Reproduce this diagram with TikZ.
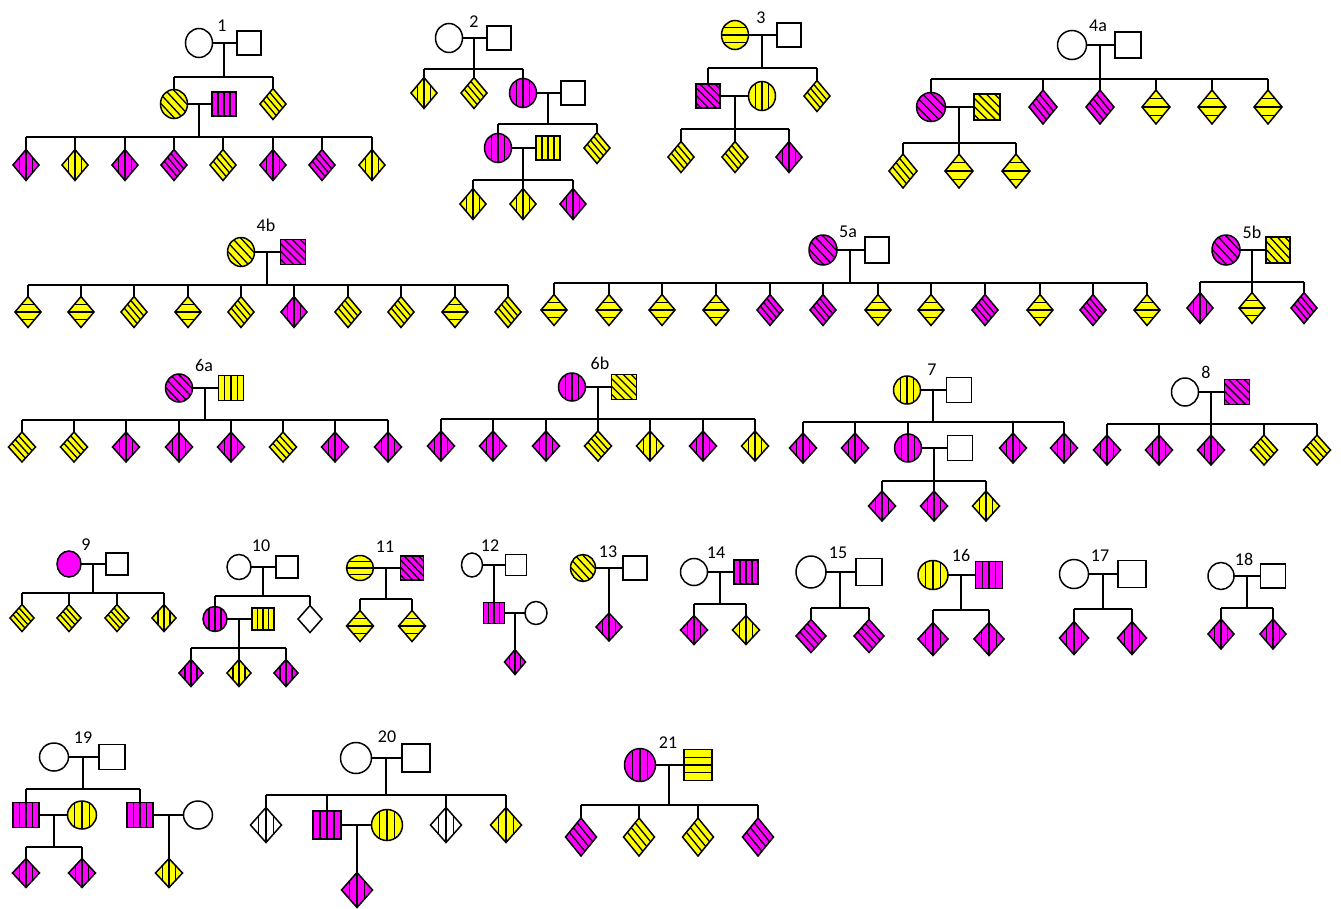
\documentclass[tikz,border=0pt]{standalone}
\usepackage{fontspec}
\setmainfont{Carlito}
\usetikzlibrary{shapes.geometric,calc}
\definecolor{mag}{HTML}{FF00FF}
\definecolor{yel}{HTML}{FFFF00}
\newcommand\PCouple[3]{\draw[ln] (#1) -- (#2); \coordinate (#3) at ($(#1)!.5!(#2)$);}
\newcommand\PDrop[2]{\draw[ln] (#1) -- (#1 |- #2);}
\newcommand\PBar[3]{\draw[ln] (#1 |- #3) -- (#2 |- #3);}
\newcommand\PUp[2]{\draw[ln] (#1.north) -- (#1 |- #2);}
\newcommand\PKids[4]{\foreach[count=\i] \x/\s in {#4}{\node[U,sty/.expanded=\s] (#1\i) at (\x,#2) {}; \draw[ln] (#1\i.north) -- (#1\i |- #3);}}
\tikzset{
  ln/.style={line width=1.6pt},
  wh/.style 2 args={minimum width=#1pt,minimum height=#2pt},
  fsz/.style={wh={27}{29}},
  msz/.style={wh={24}{24}},
  usz/.style={wh={26}{31}},
  base/.style={draw=black,line width=1.5pt,inner sep=0pt,outer sep=0pt,fill=white},
  F/.style={base,ellipse,fsz},
  M/.style={base,rectangle,msz},
  U/.style={base,diamond,usz},
  stripe/.style={line width=1.3pt,draw=black},
  sV/.style={path picture={\foreach \f in {0.25,0.5,0.75}{\draw[stripe] ($(path picture bounding box.south west)!\f!(path picture bounding box.south east)$) -- ($(path picture bounding box.north west)!\f!(path picture bounding box.north east)$);}}},
  sH/.style={path picture={\foreach \f in {0.25,0.5,0.75}{\draw[stripe] ($(path picture bounding box.south west)!\f!(path picture bounding box.north west)$) -- ($(path picture bounding box.south east)!\f!(path picture bounding box.north east)$);}}},
  sD/.style={path picture={\foreach \f/\g in {-0.79/0.21,-0.47/0.53,-0.157/0.843,0.157/1.157,0.47/1.47,0.79/1.79}{\draw[stripe] ($(path picture bounding box.north west)!\f!(path picture bounding box.north east)$) -- ($(path picture bounding box.south west)!\g!(path picture bounding box.south east)$);}}},
  sDd/.style={path picture={\foreach \f/\g in {-0.25/0.75,0/1,0.25/1.25}{\draw[stripe] ($(path picture bounding box.north west)!\f!(path picture bounding box.north east)$) -- ($(path picture bounding box.south west)!\g!(path picture bounding box.south east)$);}}},
  MV/.style={fill=mag,sV}, YV/.style={fill=yel,sV}, WV/.style={sV},
  YH/.style={fill=yel,sH},
  MD/.style={fill=mag,sD}, YD/.style={fill=yel,sD},
  MDd/.style={fill=mag,sDd}, YDd/.style={fill=yel,sDd},
  MS/.style={fill=mag},
  lbl/.style={font=\fontsize{18}{20}\selectfont,inner sep=0pt},
  sty/.style={#1}
}
\begin{document}
\begin{tikzpicture}[x=1pt,y=-1pt]
\fill[white] (0,0) rectangle (1341,908);
\useasboundingbox (0,0) rectangle (1341,908);
% ---------- 1
\node[lbl] (t1) at (222,26) {1};
\node[F] (p1f) at (199,43) {};
\node[M] (p1m) at (249,43) {};
\PCouple{p1f}{p1m}{p1x}
\coordinate (p1k) at (0,77);
\PDrop{p1x}{p1k}
\node[F,YD] (p1a) at (174,104) {};
\node[M,MV] (p1s) at (224,104) {};
\node[U,YDd] (p1b) at (273,104) {};
\PBar{p1a}{p1b}{p1k}\PUp{p1a}{p1k}\PUp{p1b}{p1k}
\PCouple{p1a}{p1s}{p1y}
\coordinate (p1j) at (0,137);
\PDrop{p1y}{p1j}
\PKids{p1c}{165}{p1j}{26/MV,75/YV,125/MV,174/MDd,223/YDd,273/MV,322/MDd,372/YV}
\PBar{p1c1}{p1c8}{p1j}
% ---------- 2
\node[lbl] (t2) at (474,22) {2};
\node[F] (p2f) at (449,38) {};
\node[M] (p2m) at (499,38) {};
\PCouple{p2f}{p2m}{p2x}
\coordinate (p2k) at (0,69);
\PDrop{p2x}{p2k}
\node[U,YV] (p2a) at (424,93) {};
\node[U,YDd] (p2b) at (474,93) {};
\node[F,MV] (p2c) at (523,93) {};
\node[M] (p2s) at (573,93) {};
\PBar{p2a}{p2c}{p2k}\PUp{p2a}{p2k}\PUp{p2b}{p2k}\PUp{p2c}{p2k}
\PCouple{p2c}{p2s}{p2y}
\coordinate (p2j) at (0,124);
\PDrop{p2y}{p2j}
\node[F,MV] (p2d) at (498,148) {};
\node[M,YV] (p2t) at (548,148) {};
\node[U,YDd] (p2e) at (597,148) {};
\PBar{p2d}{p2e}{p2j}\PUp{p2d}{p2j}\PUp{p2e}{p2j}
\PCouple{p2d}{p2t}{p2z}
\coordinate (p2i) at (0,180);
\PDrop{p2z}{p2i}
\PKids{p2g}{204}{p2i}{473/YV,523/YV,573/MV}
\PBar{p2g1}{p2g3}{p2i}
% ---------- 3
\node[lbl] (t3) at (761,18) {3};
\node[F,YH] (p3f) at (735,35) {};
\node[M] (p3m) at (789,35) {};
\PCouple{p3f}{p3m}{p3x}
\coordinate (p3k) at (0,68);
\PDrop{p3x}{p3k}
\node[M,MD] (p3a) at (708,96) {};
\node[F,YV] (p3s) at (762,96) {};
\node[U,YDd] (p3b) at (817,96) {};
\PBar{p3a}{p3b}{p3k}\PUp{p3a}{p3k}\PUp{p3b}{p3k}
\PCouple{p3a}{p3s}{p3y}
\coordinate (p3j) at (0,129);
\PDrop{p3y}{p3j}
\PKids{p3g}{157}{p3j}{681/YDd,735/YDd,789/MV}
\PBar{p3g1}{p3g3}{p3j}
% ---------- 4a
\begin{scope}[fsz/.style={wh={29}{29}},msz/.style={wh={26}{26}},usz/.style={wh={28}{34}}]
\node[lbl] (t4a) at (1098,26) {4a};
\node[F] (p4f) at (1072,45) {};
\node[M] (p4m) at (1128,45) {};
\PCouple{p4f}{p4m}{p4x}
\coordinate (p4k) at (0,79);
\PDrop{p4x}{p4k}
\node[F,MD] (p4a) at (931,107) {};
\node[M,YD] (p4s) at (987,107) {};
\PKids{p4c}{107}{p4k}{1043/MDd,1100/MDd,1156/YH,1212/YH,1268/YH}
\PUp{p4a}{p4k}\PBar{p4a}{p4c5}{p4k}
\PCouple{p4a}{p4s}{p4y}
\coordinate (p4j) at (0,143);
\PDrop{p4y}{p4j}
\PKids{p4g}{171}{p4j}{903/YDd,959/YH,1016/YH}
\PBar{p4g1}{p4g3}{p4j}
\end{scope}
% ---------- 4b
\begin{scope}[msz/.style={wh={25}{25}}]
\node[lbl] (t4b) at (266,225) {4b};
\node[F,YD] (q4f) at (241,252) {};
\node[M,MD] (q4m) at (293,252) {};
\PCouple{q4f}{q4m}{q4x}
\coordinate (q4k) at (0,285);
\PDrop{q4x}{q4k}
\PKids{q4c}{312}{q4k}{28/YH,81/YH,134/YDd,188/YH,241/YDd,294/MV,348/YDd,401/YDd,455/YH,508/YDd}
\PBar{q4c1}{q4c10}{q4k}
\end{scope}
% ---------- 5a
\begin{scope}[fsz/.style={wh={28}{30}},msz/.style={wh={24}{26}}]
\node[lbl] (t5a) at (848,232) {5a};
\node[F,MD] (p5f) at (823,250) {};
\node[M] (p5m) at (877,250) {};
\PCouple{p5f}{p5m}{p5x}
\coordinate (p5k) at (0,283);
\PDrop{p5x}{p5k}
\PKids{p5c}{310}{p5k}{554/YH,609/YH,662/YH,716/YH,770/MDd,823/MDd,878/YH,931/YH,985/MDd,1040/YH,1093/MDd,1147/YH}
\PBar{p5c1}{p5c12}{p5k}
% ---------- 5b
\node[lbl] (t5b) at (1252,232) {5b};
\node[F,MD] (q5f) at (1226,250) {};
\node[M,YD] (q5m) at (1278,250) {};
\PCouple{q5f}{q5m}{q5x}
\coordinate (q5k) at (0,282);
\PDrop{q5x}{q5k}
\PKids{q5c}{308}{q5k}{1200/MV,1252/YH,1304/MDd}
\PBar{q5c1}{q5c3}{q5k}
\end{scope}
% ---------- row 3
\begin{scope}[fsz/.style={wh={27}{28}},msz/.style={wh={25}{25}},usz/.style={wh={27}{30}}]
% 6a
\node[lbl] (t6a) at (204,365) {6a};
\node[F,MD] (p6f) at (179,388) {};
\node[M,YV] (p6m) at (231,388) {};
\PCouple{p6f}{p6m}{p6x}
\coordinate (p6k) at (0,420);
\PDrop{p6x}{p6k}
\PKids{p6c}{447}{p6k}{22/YDd,74/YDd,126/MV,179/MV,231/MV,283/YDd,335/MV,388/MV}
\PBar{p6c1}{p6c8}{p6k}
% 6b
\node[lbl] (t6b) at (600,363) {6b};
\node[F,MV] (q6f) at (572,387) {};
\node[M,YD] (q6m) at (624,387) {};
\PCouple{q6f}{q6m}{q6x}
\coordinate (q6k) at (0,419);
\PDrop{q6x}{q6k}
\PKids{q6c}{446}{q6k}{441/MV,493/MV,546/MV,598/YDd,650/YV,703/MV,755/YV}
\PBar{q6c1}{q6c7}{q6k}
% 7
\node[lbl] (t7) at (932,370) {7};
\node[F,YV] (p7f) at (907,390) {};
\node[M] (p7m) at (959,390) {};
\PCouple{p7f}{p7m}{p7x}
\coordinate (p7k) at (0,422);
\PDrop{p7x}{p7k}
\PKids{p7c}{448}{p7k}{803/MV,855/MV}
\node[F,MV] (p7a) at (908,448) {};
\node[M] (p7s) at (960,448) {};
\PKids{p7d}{448}{p7k}{1013/MV,1064/MV}
\PUp{p7a}{p7k}\PBar{p7c1}{p7d2}{p7k}
\PCouple{p7a}{p7s}{p7y}
\coordinate (p7j) at (0,481);
\PDrop{p7y}{p7j}
\PKids{p7g}{506}{p7j}{882/MV,934/MV,986/YV}
\PBar{p7g1}{p7g3}{p7j}
% 8
\node[lbl] (t8) at (1206,372) {8};
\node[F] (p8f) at (1185,392) {};
\node[M,MD] (p8m) at (1237,392) {};
\PCouple{p8f}{p8m}{p8x}
\coordinate (p8k) at (0,424);
\PDrop{p8x}{p8k}
\PKids{p8c}{450}{p8k}{1107/MV,1159/MV,1211/MV,1264/YDd,1317/YDd}
\PBar{p8c1}{p8c5}{p8k}
\end{scope}
% ---------- 9
\begin{scope}[fsz/.style={wh={24}{26}},msz/.style={wh={22}{22}},usz/.style={wh={24}{27}}]
\node[lbl] (t9) at (86,545) {9};
\node[F,MS] (p9f) at (69,564) {};
\node[M] (p9m) at (117,564) {};
\PCouple{p9f}{p9m}{p9x}
\coordinate (p9k) at (0,593);
\PDrop{p9x}{p9k}
\PKids{p9c}{618}{p9k}{22/YDd,69/YDd,117/YDd,164/YV}
\PBar{p9c1}{p9c4}{p9k}
\end{scope}
% ---------- 10
\begin{scope}[fsz/.style={wh={24}{25}},msz/.style={wh={22}{22}},usz/.style={wh={24}{27}}]
\node[lbl] (t10) at (261,546) {10};
\node[F] (p10f) at (239,567) {};
\node[M] (p10m) at (287,567) {};
\PCouple{p10f}{p10m}{p10x}
\coordinate (p10k) at (0,596);
\PDrop{p10x}{p10k}
\node[F,MV] (p10a) at (215,619) {};
\node[M,YV] (p10s) at (263,619) {};
\node[U] (p10b) at (310,619) {};
\PBar{p10a}{p10b}{p10k}\PUp{p10a}{p10k}\PUp{p10b}{p10k}
\PCouple{p10a}{p10s}{p10y}
\coordinate (p10j) at (0,648);
\PDrop{p10y}{p10j}
\PKids{p10g}{673}{p10j}{191/MV,239/YV,286/MV}
\PBar{p10g1}{p10g3}{p10j}
\end{scope}
% ---------- 11
\begin{scope}[fsz/.style={wh={27}{25}},msz/.style={wh={23}{24}},usz/.style={wh={27}{31}}]
\node[lbl] (t11) at (385,547) {11};
\node[F,YH] (p11f) at (360,568) {};
\node[M,MD] (p11m) at (412,568) {};
\PCouple{p11f}{p11m}{p11x}
\coordinate (p11k) at (0,599);
\PDrop{p11x}{p11k}
\PKids{p11c}{626}{p11k}{360/YH,412/YH}
\PBar{p11c1}{p11c2}{p11k}
\end{scope}
% ---------- 12
\begin{scope}[fsz/.style={wh={21}{24}},msz/.style={wh={21}{21}},usz/.style={wh={21}{25}}]
\node[lbl] (t12) at (490,546) {12};
\node[F] (p12f) at (472,565) {};
\node[M] (p12m) at (516,565) {};
\PCouple{p12f}{p12m}{p12x}
\node[M,MV] (p12a) at (494,613) {};
\node[F,wh={22}{23}] (p12s) at (536,613) {};
\draw[ln] (p12x) -- (p12x |- p12a.north);
\PCouple{p12a}{p12s}{p12y}
\node[U,MV] (p12c) at (515,662) {};
\draw[ln] (p12y) -- (p12y |- p12c.north);
\end{scope}
% ---------- 13
\begin{scope}[fsz/.style={wh={25}{27}},msz/.style={wh={24}{24}},usz/.style={wh={26}{28}}]
\node[lbl] (t13) at (608,552) {13};
\node[F,YD] (p13f) at (583,568) {};
\node[M] (p13m) at (635,568) {};
\PCouple{p13f}{p13m}{p13x}
\node[U,MV] (p13c) at (609,627) {};
\draw[ln] (p13x) -- (p13x |- p13c.north);
\end{scope}
% ---------- 14
\begin{scope}[fsz/.style={wh={27}{27}},msz/.style={wh={24}{24}},usz/.style={wh={27}{29}}]
\node[lbl] (t14) at (716,553) {14};
\node[F] (p14f) at (694,572) {};
\node[M,MV] (p14m) at (746,572) {};
\PCouple{p14f}{p14m}{p14x}
\coordinate (p14k) at (0,604);
\PDrop{p14x}{p14k}
\PKids{p14c}{630}{p14k}{694/MV,746/YV}
\PBar{p14c1}{p14c2}{p14k}
\end{scope}
% ---------- 15
\begin{scope}[fsz/.style={wh={30}{32}},msz/.style={wh={26}{27}},usz/.style={wh={30}{33}}]
\node[lbl] (t15) at (838,553) {15};
\node[F] (p15f) at (811,572) {};
\node[M] (p15m) at (869,572) {};
\PCouple{p15f}{p15m}{p15x}
\coordinate (p15k) at (0,608);
\PDrop{p15x}{p15k}
\PKids{p15c}{636}{p15k}{811/MDd,869/MDd}
\PBar{p15c1}{p15c2}{p15k}
\end{scope}
% ---------- 16
\begin{scope}[fsz/.style={wh={30}{29}},msz/.style={wh={27}{27}},usz/.style={wh={30}{33}}]
\node[lbl] (t16) at (961,555) {16};
\node[F,YV] (p16f) at (933,575) {};
\node[M,MV] (p16m) at (989,575) {};
\PCouple{p16f}{p16m}{p16x}
\coordinate (p16k) at (0,610);
\PDrop{p16x}{p16k}
\PKids{p16c}{639}{p16k}{933/MV,989/MV}
\PBar{p16c1}{p16c2}{p16k}
\end{scope}
% ---------- 17
\begin{scope}[fsz/.style={wh={29}{29}},msz/.style={wh={28}{27}},usz/.style={wh={29}{33}}]
\node[lbl] (t17) at (1100,556) {17};
\node[F] (p17f) at (1074,574) {};
\node[M] (p17m) at (1132,574) {};
\PCouple{p17f}{p17m}{p17x}
\coordinate (p17k) at (0,609);
\PDrop{p17x}{p17k}
\PKids{p17c}{638}{p17k}{1074/MV,1132/MV}
\PBar{p17c1}{p17c2}{p17k}
\end{scope}
% ---------- 18
\begin{scope}[fsz/.style={wh={26}{27}},msz/.style={wh={25}{24}},usz/.style={wh={26}{30}}]
\node[lbl] (t18) at (1244,559) {18};
\node[F] (p18f) at (1221,576) {};
\node[M] (p18m) at (1273,576) {};
\PCouple{p18f}{p18m}{p18x}
\coordinate (p18k) at (0,608);
\PDrop{p18x}{p18k}
\PKids{p18c}{634}{p18k}{1221/MV,1273/MV}
\PBar{p18c1}{p18c2}{p18k}
\end{scope}
% ---------- 19
\begin{scope}[fsz/.style={wh={29}{28}},msz/.style={wh={26}{25}},usz/.style={wh={27}{29}}]
\node[lbl] (t19) at (83,738) {19};
\node[F] (p19f) at (54,757) {};
\node[M] (p19m) at (112,757) {};
\PCouple{p19f}{p19m}{p19x}
\coordinate (p19k) at (0,789);
\PDrop{p19x}{p19k}
\node[M,MV] (p19a) at (26,815) {};
\node[F,YV] (p19s) at (82,815) {};
\node[M,MV] (p19b) at (140,815) {};
\node[F] (p19t) at (198,815) {};
\PBar{p19a}{p19b}{p19k}\PUp{p19a}{p19k}\PUp{p19b}{p19k}
\PCouple{p19a}{p19s}{p19y}
\coordinate (p19j) at (0,847);
\PDrop{p19y}{p19j}
\PKids{p19g}{873}{p19j}{26/MV,82/MV}
\PBar{p19g1}{p19g2}{p19j}
\PCouple{p19b}{p19t}{p19z}
\node[U,YV] (p19h) at (169,873) {};
\draw[ln] (p19z) -- (p19z |- p19h.north);
\end{scope}
% ---------- 20
\begin{scope}[fsz/.style={wh={31}{31}},msz/.style={wh={28}{28}},usz/.style={wh={31}{35}}]
\node[lbl] (t20) at (387,737) {20};
\node[F] (p20f) at (356,758) {};
\node[M] (p20m) at (416,758) {};
\PCouple{p20f}{p20m}{p20x}
\coordinate (p20k) at (0,795);
\PDrop{p20x}{p20k}
\PKids{p20c}{825}{p20k}{266/WV}
\node[M,MV] (p20a) at (327,825) {};
\node[F,YV] (p20s) at (387,825) {};
\PKids{p20d}{825}{p20k}{446/WV,506/YV}
\PUp{p20a}{p20k}\PBar{p20c1}{p20d2}{p20k}
\PCouple{p20a}{p20s}{p20y}
\node[U,MV] (p20g) at (357,890) {};
\draw[ln] (p20y) -- (p20y |- p20g.north);
\end{scope}
% ---------- 21
\begin{scope}[fsz/.style={wh={31}{33}},msz/.style={wh={28}{31}},usz/.style={wh={31}{38}}]
\node[lbl] (t21) at (668,743) {21};
\node[F,MV] (p21f) at (640,765) {};
\node[M,YH] (p21m) at (698,765) {};
\PCouple{p21f}{p21m}{p21x}
\coordinate (p21k) at (0,805);
\PDrop{p21x}{p21k}
\PKids{p21c}{837}{p21k}{581/MDd,639/YDd,698/YDd,758/MDd}
\PBar{p21c1}{p21c4}{p21k}
\end{scope}
\end{tikzpicture}
\end{document}
